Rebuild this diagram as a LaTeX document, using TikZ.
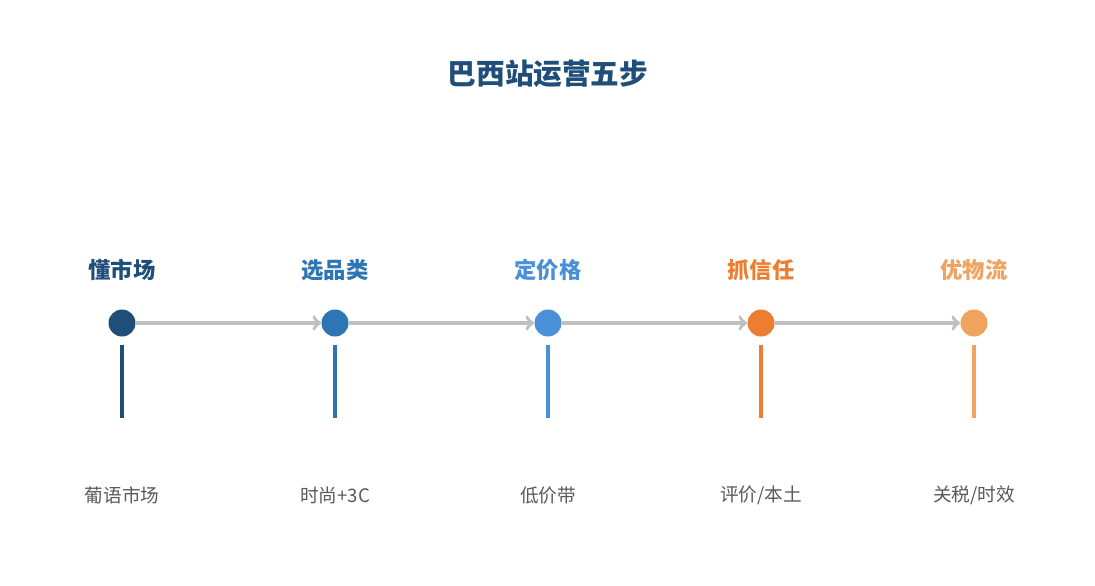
\documentclass[tikz,border=0pt]{standalone}
\usepackage{fontspec}
\setmainfont{Noto Sans CJK SC}
\usetikzlibrary{arrows, positioning}

\definecolor{stepA}{HTML}{1F4E79}
\definecolor{stepB}{HTML}{2E75B6}
\definecolor{stepC}{HTML}{4A90D9}
\definecolor{stepD}{HTML}{ED7D31}
\definecolor{stepE}{HTML}{F0A35E}
\definecolor{flowgray}{HTML}{C0C0C0}
\definecolor{notegray}{HTML}{595959}

\begin{document}
\begin{tikzpicture}[
  x=0.02cm, y=-0.02cm,
  dot/.style={circle, minimum size=0.54cm, inner sep=0pt},
  steplabel/.style={font=\fontsize{12.7}{14}\selectfont\bfseries},
  note/.style={font=\fontsize{10.6}{12}\selectfont, text=notegray},
  flow/.style={draw=flowgray, line width=2pt, ->, >=to},
  stem/.style={line width=2.3pt}] % one unit is one pixel of the reference

  \useasboundingbox (0,0) rectangle (1095,585);

  \node[font=\fontsize{16.3}{18}\selectfont\bfseries, text=stepA] (title) at (548,74) {巴西站运营五步};

  % the five dots
  \node[dot, fill=stepA] (s1) at (122,323) {};
  \node[dot, fill=stepB] (s2) at (335,323) {};
  \node[dot, fill=stepC] (s3) at (548,323) {};
  \node[dot, fill=stepD] (s4) at (761,323) {};
  \node[dot, fill=stepE] (s5) at (974,323) {};

  \draw[flow] (s1) -- (s2);
  \draw[flow] (s2) -- (s3);
  \draw[flow] (s3) -- (s4);
  \draw[flow] (s4) -- (s5);

  % step names
  \node[steplabel, text=stepA] (l1) at (122,270) {懂市场};
  \node[steplabel, text=stepB] (l2) at (335,270) {选品类};
  \node[steplabel, text=stepC] (l3) at (548,270) {定价格};
  \node[steplabel, text=stepD] (l4) at (761,270) {抓信任};
  \node[steplabel, text=stepE] (l5) at (974,270) {优物流};

  % stems
  \coordinate (t1) at (122,345); \coordinate (b1) at (122,418);
  \coordinate (t2) at (335,345); \coordinate (b2) at (335,418);
  \coordinate (t3) at (548,345); \coordinate (b3) at (548,418);
  \coordinate (t4) at (761,345); \coordinate (b4) at (761,418);
  \coordinate (t5) at (974,345); \coordinate (b5) at (974,418);
  \draw[stem, stepA] (t1) -- (b1);
  \draw[stem, stepB] (t2) -- (b2);
  \draw[stem, stepC] (t3) -- (b3);
  \draw[stem, stepD] (t4) -- (b4);
  \draw[stem, stepE] (t5) -- (b5);

  % notes
  \node[note] (n1) at (122,495) {葡语市场};
  \node[note] (n2) at (335,495) {时尚+3C};
  \node[note] (n3) at (548,495) {低价带};
  \node[note] (n4) at (761,495) {评价/本土};
  \node[note] (n5) at (974,495) {关税/时效};
\end{tikzpicture}
\end{document}
